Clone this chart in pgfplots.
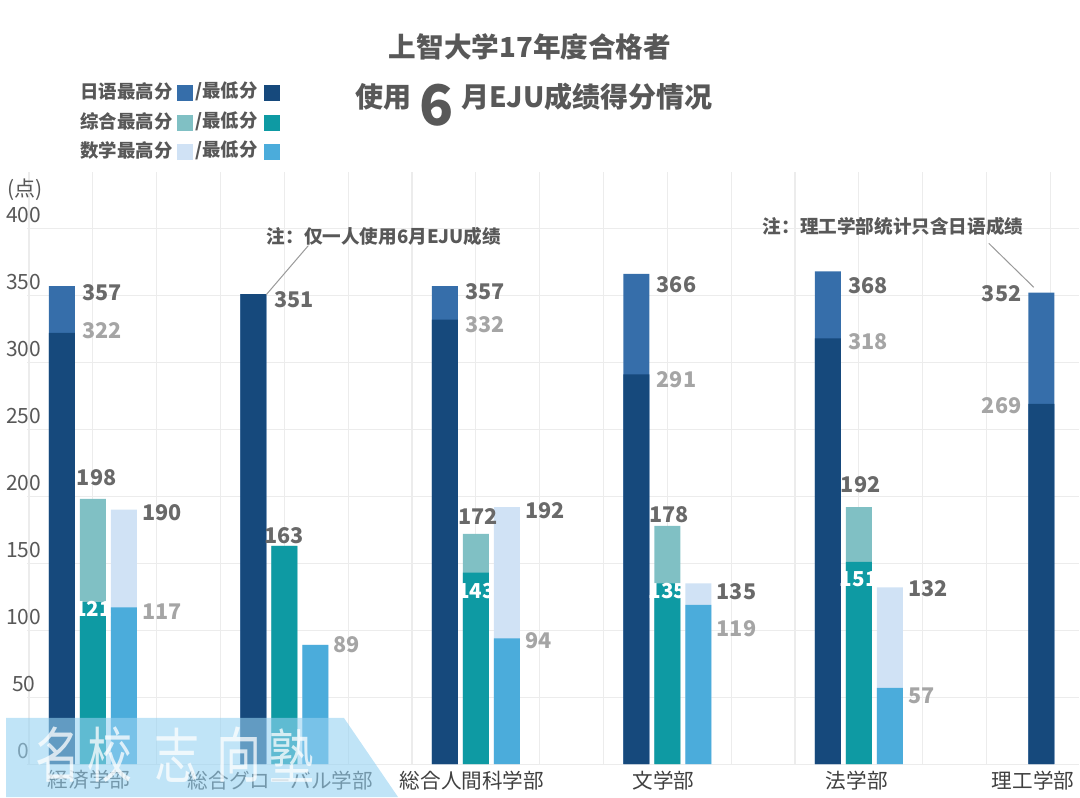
\documentclass[border=0pt]{standalone}
\usepackage{fontspec}
\setmainfont{Noto Sans CJK SC}
\newfontfamily\jpfont{Noto Sans CJK JP}
\usepackage{pgfplots}
\pgfplotsset{compat=1.18}
\definecolor{jpmax}{RGB}{54,110,170}
\definecolor{jpmin}{RGB}{22,73,124}
\definecolor{zhmax}{RGB}{128,192,196}
\definecolor{zhmin}{RGB}{14,154,163}
\definecolor{mamax}{RGB}{208,226,245}
\definecolor{mamin}{RGB}{75,172,219}
\definecolor{gridc}{RGB}{236,236,236}
\definecolor{txtd}{RGB}{88,88,88}
\definecolor{valmax}{RGB}{105,105,105}
\definecolor{valmin}{RGB}{165,165,165}
\definecolor{catc}{RGB}{64,64,64}
\definecolor{wmark}{RGB}{150,210,242}
\begin{document}
\begin{tikzpicture}[x=1pt,y=1pt,
  vmax/.style={font=\bfseries\fontsize{10.8}{12}\selectfont, text=valmax, inner sep=0pt},
  vmin/.style={font=\bfseries\fontsize{10.8}{12}\selectfont, text=valmin, inner sep=0pt},
  vw/.style={font=\bfseries\fontsize{10.3}{12}\selectfont, text=white, inner sep=0pt},
  leg/.style={font=\bfseries\fontsize{9.2}{11}\selectfont, text=txtd, inner sep=0pt, anchor=west},
  note/.style={font=\bfseries\fontsize{9.3}{11}\selectfont, text=txtd, inner sep=0pt}]
\path[use as bounding box] (0,0) rectangle (540,398.5);
\begin{axis}[at={(14,24.5)}, anchor=south west, scale only axis,
  width=526pt, height=296pt,
  xmin=-0.345, xmax=5.149, ymin=0, ymax=442, clip=false,
  axis line style={draw=none}, major tick length=0pt, minor tick length=0pt,
  ytick={0,50,...,400}, ymajorgrids, xmajorgrids=false,
  grid style={gridc, line width=0.6pt},
  minor xtick={-0.3333,0,0.3333,0.6667,1,1.3333,1.6667,2,2.3333,2.6667,3,3.3333,3.6667,4,4.3333,4.6667,5},
  xminorgrids, minor grid style={gridc, line width=0.6pt},
  xtick={-0.02,0.98,1.98,2.98,3.99,4.91},
  xticklabels={経済学部,総合グローバル学部,総合人間科学部,文学部,法学部,理工学部},
  xticklabel style={font=\jpfont\fontsize{10.3}{12}\selectfont, text=catc, anchor=center, yshift=-8pt},
  yticklabel style={font=\fontsize{10.5}{12}\selectfont, text=txtd, anchor=center, xshift=-1.5pt, yshift=6.5pt},
  /pgf/number format/assume math mode=true,
]
% Japanese: max then min
\addplot[ybar, bar width=13pt, bar shift=0pt, fill=jpmax, draw=none]
  coordinates {(-0.162,357) (0.838,351) (1.838,357) (2.838,366) (3.838,368) (4.953,352)};
\addplot[ybar, bar width=13pt, bar shift=0pt, fill=jpmin, draw=none]
  coordinates {(-0.162,322) (0.838,351) (1.838,332) (2.838,291) (3.838,318) (4.953,269)};
% Comprehensive
\addplot[ybar, bar width=13pt, bar shift=0pt, fill=zhmax, draw=none]
  coordinates {(0,198) (1,163) (2,172) (3,178) (4,192)};
\addplot[ybar, bar width=13pt, bar shift=0pt, fill=zhmin, draw=none]
  coordinates {(0,121) (1,163) (2,143) (3,135) (4,151)};
% Math
\addplot[ybar, bar width=13pt, bar shift=0pt, fill=mamax, draw=none]
  coordinates {(0.162,190) (1.162,89) (2.162,192) (3.162,135) (4.162,132)};
\addplot[ybar, bar width=13pt, bar shift=0pt, fill=mamin, draw=none]
  coordinates {(0.162,117) (1.162,89) (2.162,94) (3.162,119) (4.162,57)};

% value labels
\node[vmax, anchor=west] at (axis cs:-0.057,352) {357};
\node[vmin, anchor=west] at (axis cs:-0.057,324) {322};
\node[vmax] at (axis cs:0.02,214) {198};
\node[vw] at (axis cs:0,116) {121};
\node[vmax, anchor=west] at (axis cs:0.256,188) {190};
\node[vmin, anchor=west] at (axis cs:0.256,114) {117};

\node[vmax, anchor=west] at (axis cs:0.945,347) {351};
\node[vmax] at (axis cs:1,170.5) {163};
\node[vmin, anchor=west] at (axis cs:1.256,89) {89};

\node[vmax, anchor=west] at (axis cs:1.943,353) {357};
\node[vmin, anchor=west] at (axis cs:1.943,328) {332};
\node[vmax] at (axis cs:2.01,185) {172};
\node[vw] at (axis cs:2,129) {143};
\node[vmax, anchor=west] at (axis cs:2.256,189) {192};
\node[vmin, anchor=west] at (axis cs:2.256,92) {94};

\node[vmax, anchor=west] at (axis cs:2.943,358) {366};
\node[vmin, anchor=west] at (axis cs:2.943,287) {291};
\node[vmax] at (axis cs:3.01,186) {178};
\node[vw] at (axis cs:3,129) {135};
\node[vmax, anchor=west] at (axis cs:3.256,129) {135};
\node[vmin, anchor=west] at (axis cs:3.256,101) {119};

\node[vmax, anchor=west] at (axis cs:3.943,357) {368};
\node[vmin, anchor=west] at (axis cs:3.943,315.5) {318};
\node[vmax] at (axis cs:4.01,209) {192};
\node[vw] at (axis cs:4,138) {151};
\node[vmax, anchor=west] at (axis cs:4.256,131) {132};
\node[vmin, anchor=west] at (axis cs:4.256,51) {57};

\node[vmax, anchor=east] at (axis cs:4.851,351) {352};
\node[vmin, anchor=east] at (axis cs:4.851,268) {269};

% leader lines
\draw[gray!80, line width=0.5pt] (axis cs:0.906,350.6) -- ++(21pt,24.5pt);
\draw[gray!80, line width=0.5pt] (axis cs:4.914,356) -- ++(-22.5pt,22pt);
\end{axis}

% titles
\node[font=\bfseries\fontsize{13.8}{16}\selectfont, text=txtd, inner sep=0pt] at (265,375) {上智大学17年度合格者};
\node[font=\bfseries\fontsize{14}{16}\selectfont, text=txtd, inner sep=0pt, anchor=base] at (267,344.5)
  {使用\hspace{4pt}\raisebox{-9pt}{\fontsize{28}{28}\selectfont 6}\hspace{4pt}月EJU成绩得分情况};

% legend
\node[leg] at (40,353) {日语最高分};
\fill[jpmax] (88.5,348) rectangle (96.5,356);
\node[leg] at (97.5,353) {/最低分};
\fill[jpmin] (132,348) rectangle (140,356);
\node[leg] at (40,338) {综合最高分};
\fill[zhmax] (88.5,333) rectangle (96.5,341);
\node[leg] at (97.5,338) {/最低分};
\fill[zhmin] (132,333) rectangle (140,341);
\node[leg] at (40,323.5) {数学最高分};
\fill[mamax] (88.5,318.5) rectangle (96.5,326.5);
\node[leg] at (97.5,323.5) {/最低分};
\fill[mamin] (132,318.5) rectangle (140,326.5);

% unit
\node[font=\fontsize{10.5}{12}\selectfont, text=txtd, inner sep=0pt] at (12.5,303.5) {(点)};

% notes
\node[note] at (192,280.5) {注：仅一人使用6月EJU成绩};
\node[note] at (446.5,285.5) {注：理工学部统计只含日语成绩};

% watermark
\fill[wmark, fill opacity=0.6] (3,39.5) -- (172,39.5) -- (199,0) -- (3,0) -- cycle;
\begin{scope}[every node/.style={font=\fontsize{30}{30}\selectfont, text=white, text opacity=0.75, inner sep=0pt, xscale=0.75}]
\node at (29,21) {名};
\node at (55,21) {校};
\node at (88.5,21) {志};
\node at (119.5,21) {向};
\node at (146,21) {塾};
\end{scope}
\end{tikzpicture}
\end{document}
